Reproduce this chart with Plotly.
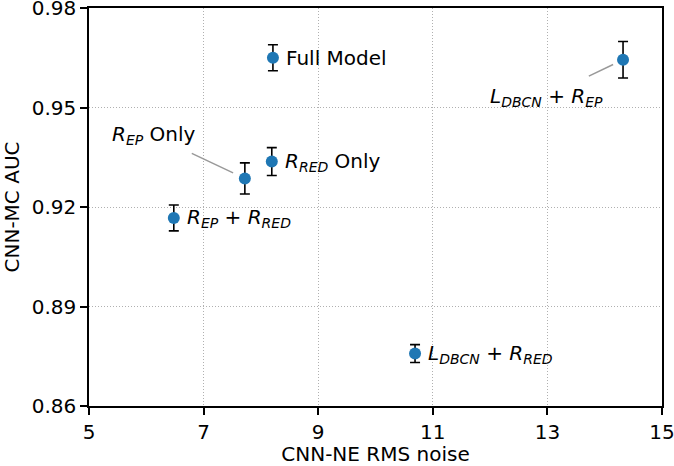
import plotly.graph_objects as go

# ---- data ----
labels = [
    "Full Model",
    "<i>L</i><sub><i>DBCN</i></sub> + <i>R</i><sub><i>EP</i></sub>",
    "<i>R</i><sub><i>EP</i></sub> Only",
    "<i>R</i><sub><i>RED</i></sub> Only",
    "<i>R</i><sub><i>EP</i></sub> + <i>R</i><sub><i>RED</i></sub>",
    "<i>L</i><sub><i>DBCN</i></sub> + <i>R</i><sub><i>RED</i></sub>",
]
rms_noise = [8.21, 14.32, 7.72, 8.19, 6.48, 10.69]
auc = [0.9650, 0.9644, 0.9286, 0.9337, 0.9167, 0.8758]
auc_err = [0.0039, 0.0055, 0.0047, 0.0042, 0.0039, 0.0027]

x_ticks = [5, 7, 9, 11, 13, 15]
y_ticks = [0.86, 0.89, 0.92, 0.95, 0.98]

FONT = "DejaVu Sans"
FS = 20

fig = go.Figure()
fig.add_trace(go.Scatter(
    x=rms_noise, y=auc, mode="markers",
    marker=dict(color="#1f77b4", size=12),
    error_y=dict(type="data", array=auc_err, visible=True,
                 color="black", thickness=1.6, width=5),
    showlegend=False,
))

# label placement styles: (mode, ax, ay, standoff, startstandoff)
placement = [
    ("right", 0, 0, 0, 0),
    ("arrow", -77, 37, 11, 14),
    ("arrow", -91, -43, 13, 8),
    ("right", 0, 0, 0, 0),
    ("right", 0, 0, 0, 0),
    ("right", 0, 0, 0, 0),
]

for lab, xv, yv, pl in zip(labels, rms_noise, auc, placement):
    mode, ax, ay, so, sso = pl
    if mode == "right":
        fig.add_annotation(x=xv, y=yv, text=lab, showarrow=False,
                           xanchor="left", yanchor="middle", xshift=11,
                           font=dict(family=FONT, size=FS, color="black"))
    else:
        fig.add_annotation(x=xv, y=yv, text=lab, showarrow=True,
                           ax=ax, ay=ay, arrowhead=0, arrowwidth=1.5,
                           arrowcolor="#999999", standoff=so, startstandoff=sso,
                           xanchor="center", yanchor="middle",
                           font=dict(family=FONT, size=FS, color="black"))

axis_common = dict(
    showline=True, mirror=True, linecolor="black", linewidth=1.5,
    ticks="outside", ticklen=7, tickwidth=1.5, tickcolor="black",
    showgrid=True, gridcolor="#b0b0b0", gridwidth=1, griddash="1px,2px",
    zeroline=False, automargin=False, ticklabeloverflow="allow",
    tickfont=dict(family=FONT, size=FS, color="black"),
)

fig.update_xaxes(range=[5, 15], tickvals=x_ticks, ticktext=[str(t) for t in x_ticks],
                 title=dict(text="CNN-NE RMS noise", font=dict(family=FONT, size=FS, color="black"),
                            standoff=8),
                 **axis_common)
fig.update_yaxes(range=[0.86, 0.98], tickvals=y_ticks, ticktext=[f"{t:.2f}" for t in y_ticks],
                 title=dict(text="CNN-MC AUC", font=dict(family=FONT, size=FS, color="black"),
                            standoff=10),
                 **axis_common)

fig.update_layout(
    width=674, height=466,
    margin=dict(l=89, r=12, t=8, b=60),
    plot_bgcolor="white", paper_bgcolor="white",
    font=dict(family=FONT, size=FS, color="black"),
)

fig.write_html("out.html", config={"displayModeBar": False},
               post_script="document.body.style.margin='0';")
